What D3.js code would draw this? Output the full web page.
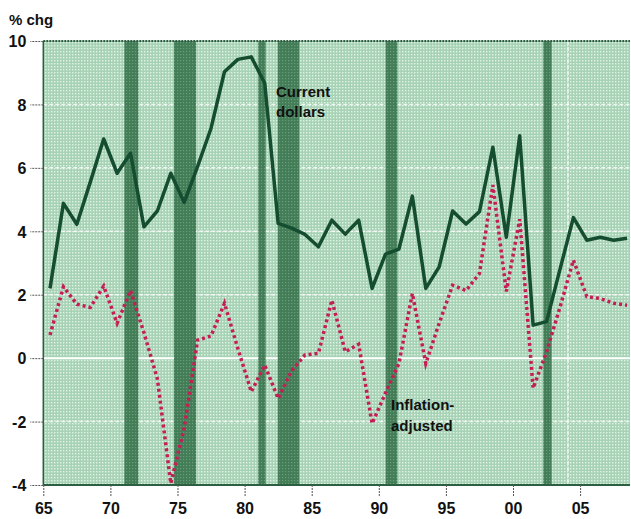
<!DOCTYPE html>
<meta charset="utf-8">
<style>
    body { margin: 0; background: #fff; }
    .lbl { font-family: "Liberation Sans Narrow", "Arial Narrow", "Liberation Sans", sans-serif; font-weight: bold; fill: #111; }
    .tick text { font-family: "Liberation Sans Narrow", "Arial Narrow", "Liberation Sans", sans-serif; font-weight: bold; fill: #111; }
</style>
<svg width="631" height="519"></svg>
<script src="https://d3js.org/d3.v7.min.js"></script>
<script>

    // annual % change, plotted at mid-year
    var years = d3.range(1965, 2009);

    var currentDollars = [2.2, 4.88, 4.22, 5.55, 6.91, 5.83, 6.46, 4.14, 4.64, 5.83,
        4.91, 6.05, 7.25, 9.03, 9.42, 9.5, 8.67, 4.25, 4.1, 3.9,
        3.51, 4.35, 3.91, 4.35, 2.2, 3.28, 3.44, 5.11, 2.2, 2.88,
        4.64, 4.23, 4.62, 6.65, 3.81, 7.01, 1.04, 1.15, 2.8, 4.43,
        3.72, 3.81, 3.72, 3.78];

    var inflationAdjusted = [0.73, 2.25, 1.7, 1.6, 2.27, 1.1, 2.13, 0.8, -0.65, -3.95,
        -2.2, 0.57, 0.7, 1.73, 0.3, -1.06, -0.22, -1.27, -0.4, 0.1,
        0.15, 1.83, 0.2, 0.44, -2.06, -1.1, -0.17, 2.04, -0.17, 1.1,
        2.3, 2.13, 2.67, 5.46, 2.1, 4.38, -0.95, 0.2, 1.6, 3.09,
        1.94, 1.88, 1.73, 1.67];

    // shaded periods [start, end]
    var recessions = [[1971.04, 1972.08], [1974.74, 1976.38], [1981.02, 1981.57],
        [1982.47, 1984.08], [1990.51, 1991.38], [2002.26, 2002.88]];

    var yTicks = [10, 8, 6, 4, 2, 0, -2, -4];
    var xTicks = [1965, 1970, 1975, 1980, 1985, 1990, 1995, 2000, 2005];
    var divider = 2004.1;

    var svg = d3.select("svg"),
        pLeft = 43.3, pRight = 630, pTop = 41, pBottom = 485;

    var x = d3.scaleLinear().domain([1965, 1965 + (pRight - pLeft) / 13.42]).range([pLeft, pRight]);
    var y = d3.scaleLinear().domain([-4, 10]).range([pBottom, pTop]);

    var defs = svg.append("defs");
    var pat = defs.append("pattern")
        .attr("id", "bgdots")
        .attr("width", 3).attr("height", 3)
        .attr("patternUnits", "userSpaceOnUse");
    pat.append("rect").attr("width", 3).attr("height", 3).attr("fill", "#a8d2b5");
    pat.append("rect").attr("width", 1.4).attr("height", 1.4).attr("fill", "#e0f4e6");

    var pat2 = defs.append("pattern")
        .attr("id", "banddots")
        .attr("width", 3).attr("height", 3)
        .attr("patternUnits", "userSpaceOnUse");
    pat2.append("rect").attr("width", 3).attr("height", 3).attr("fill", "#437d58");
    pat2.append("rect").attr("width", 1.2).attr("height", 1.2).attr("fill", "#6a9d7a");

    svg.append("rect")
        .attr("x", pLeft).attr("y", pTop)
        .attr("width", pRight - pLeft).attr("height", pBottom - pTop)
        .attr("fill", "url(#bgdots)");

    // white grid
    svg.append("g").selectAll("line")
        .data(yTicks.filter(function(d) { return d > -4 && d < 10; }))
        .enter().append("line")
        .attr("x1", pLeft).attr("x2", pRight)
        .attr("y1", function(d) { return y(d); })
        .attr("y2", function(d) { return y(d); })
        .attr("stroke", "#fff")
        .attr("stroke-width", function(d) { return d === 0 ? 2 : 1.5; })
        .attr("stroke-dasharray", function(d) { return d === 0 ? null : "4,2"; })
        .attr("opacity", function(d) { return d === 0 ? 1 : 0.8; });

    svg.append("line")
        .attr("x1", x(divider)).attr("x2", x(divider))
        .attr("y1", pTop).attr("y2", pBottom)
        .attr("stroke", "#fff").attr("stroke-width", 1.5)
        .attr("stroke-dasharray", "4,2").attr("opacity", 0.8);

    svg.append("g").selectAll("rect")
        .data(recessions)
        .enter().append("rect")
        .attr("x", function(d) { return x(d[0]); })
        .attr("width", function(d) { return x(d[1]) - x(d[0]); })
        .attr("y", pTop).attr("height", pBottom - pTop)
        .attr("fill", "url(#banddots)");

    // frame
    svg.append("line").attr("x1", pLeft).attr("x2", pRight).attr("y1", pTop).attr("y2", pTop)
        .attr("stroke", "#2c5e42").attr("stroke-width", 2).attr("stroke-dasharray", "2,1");
    svg.append("line").attr("x1", pLeft).attr("x2", pRight).attr("y1", pBottom).attr("y2", pBottom)
        .attr("stroke", "#2c5e42").attr("stroke-width", 2);
    svg.append("line").attr("x1", pLeft).attr("x2", pLeft).attr("y1", pTop).attr("y2", pBottom)
        .attr("stroke", "#2c5e42").attr("stroke-width", 1.5);

    var line = d3.line()
        .x(function(d, i) { return x(years[i] + 0.5); })
        .y(function(d) { return y(d); });

    svg.append("path")
        .datum(inflationAdjusted)
        .attr("d", line)
        .attr("fill", "none")
        .attr("stroke", "#c41f55")
        .attr("stroke-width", 3.5)
        .attr("stroke-dasharray", "3,3");

    svg.append("path")
        .datum(currentDollars)
        .attr("d", line)
        .attr("fill", "none")
        .attr("stroke", "#154d30")
        .attr("stroke-width", 3.5)
        .attr("stroke-linejoin", "round");

    // axes
    var yAxis = svg.append("g")
        .attr("transform", "translate(" + pLeft + ",0)")
        .call(d3.axisLeft(y).tickValues(yTicks).tickSize(13).tickPadding(4)
            .tickFormat(function(d) { return String(d); }));
    yAxis.select(".domain").remove();
    yAxis.selectAll(".tick line").attr("stroke", "#555").attr("stroke-dasharray", "2,1");
    yAxis.selectAll(".tick text").style("font-size", "16px").attr("dy", "0.36em");

    var xAxis = svg.append("g")
        .attr("transform", "translate(0," + pBottom + ")")
        .call(d3.axisBottom(x).tickValues(xTicks).tickSize(12).tickPadding(6)
            .tickFormat(function(d) { return d3.format("02d")(d % 100); }));
    xAxis.select(".domain").remove();
    xAxis.selectAll(".tick line").attr("stroke", "#555").attr("stroke-dasharray", "2,1");
    xAxis.selectAll(".tick text").style("font-size", "16px");

    svg.append("text").attr("class", "lbl")
        .attr("x", 9).attr("y", 25)
        .style("font-size", "15px")
        .text("% chg");

    var cd = svg.append("text").attr("class", "lbl")
        .attr("x", 276).attr("y", 97)
        .style("font-size", "15px");
    cd.append("tspan").attr("x", 276).text("Current");
    cd.append("tspan").attr("x", 276).attr("dy", 20).text("dollars");

    var ia = svg.append("text").attr("class", "lbl")
        .attr("x", 391).attr("y", 410)
        .style("font-size", "15px");
    ia.append("tspan").attr("x", 391).text("Inflation-");
    ia.append("tspan").attr("x", 391).attr("dy", 21).text("adjusted");

</script>
